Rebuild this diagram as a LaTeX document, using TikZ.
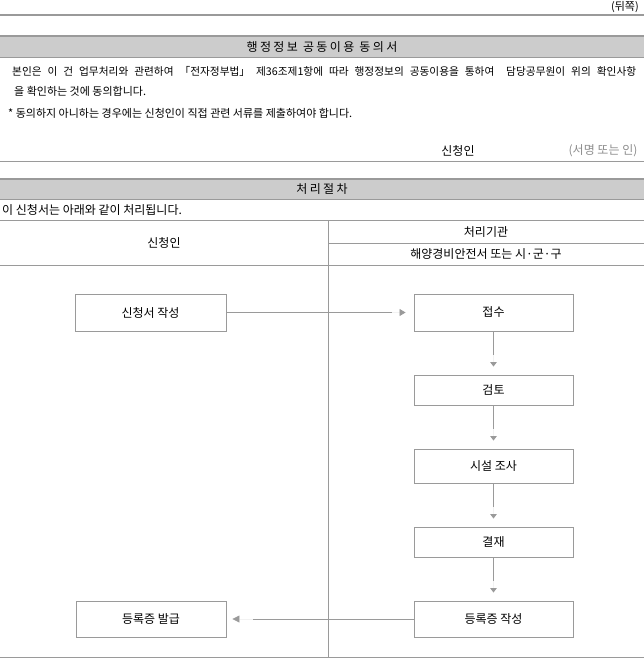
\documentclass[tikz,border=0pt]{standalone}
\usepackage{fontspec}
\setmainfont{Noto Sans CJK KR}
\newfontfamily\spacedfont[LetterSpace=20]{Noto Sans CJK KR}
\usetikzlibrary{arrows.meta}
\definecolor{rulec}{HTML}{9A9A9A}
\definecolor{bandc}{HTML}{CCCCCC}
\definecolor{sigc}{HTML}{8C8C8C}
\begin{document}
\begin{tikzpicture}[x=1pt,y=-1pt,
  font=\fontsize{12}{14}\selectfont,
  rule/.style={draw=rulec, line width=0.8pt},
  thickrule/.style={draw=rulec, line width=2.5pt},
  txt/.style={inner sep=0pt},
  bodytxt/.style={inner sep=0pt, font=\fontsize{11}{13}\selectfont},
  titletxt/.style={inner sep=0pt, font=\spacedfont\fontsize{12}{14}\selectfont},
  box/.style={draw=rulec, line width=0.9pt, inner sep=0pt},
  hconn/.style={draw=rulec, fill=rulec, line width=0.8pt, -{Triangle[length=6pt,width=7pt]}, shorten >=8pt, dash pattern=on 166pt off 300pt},
  vconn/.style={draw=rulec, fill=rulec, line width=0.8pt, -{Triangle[length=4.5pt,width=6.5pt]}, shorten >=8pt, dash pattern=on 24pt off 100pt},
  bconn/.style={draw=rulec, fill=rulec, line width=0.8pt, -{Triangle[length=7pt,width=7pt]}, shorten >=6pt, dash pattern=on 161pt off 300pt}]
\useasboundingbox (0,0) rectangle (644,659);

% rules and bands
\draw[thickrule] (0,15) -- (644,15);
\fill[bandc] (0,37) rectangle (644,57);
\draw[thickrule] (0,36) -- (644,36);
\draw[rule] (0,57.5) -- (644,57.5);
\draw[rule] (0,161.5) -- (644,161.5);
\fill[bandc] (0,180) rectangle (644,199);
\draw[thickrule] (0,179) -- (644,179);
\draw[rule] (0,199.5) -- (644,199.5);
\draw[rule] (0,220.5) -- (644,220.5);
\draw[rule] (328,243.5) -- (644,243.5);
\draw[rule] (0,265.5) -- (644,265.5);
\draw[rule] (328,220.5) -- (328,657.5);
\draw[rule] (0,657.5) -- (644,657.5);

% texts
\node[txt, anchor=north east, font=\fontsize{11}{13}\selectfont] (back) at (639,1) {(뒤쪽)};
\node[titletxt] (title1) at (322,47) {행정정보 공동이용 동의서};
\node[txt, anchor=west, font=\fontsize{10.7}{13}\selectfont] (l1) at (12,71) {\makebox[624pt][s]{본인은 이 건 업무처리와 관련하여 「전자정부법」 제36조제1항에 따라 행정정보의 공동이용을 통하여 \ 담당공무원이 위의 확인사항}};
\node[bodytxt, anchor=west] (l2) at (14,91) {을 확인하는 것에 동의합니다.};
\node[bodytxt, anchor=west] (l3) at (8,113) {* 동의하지 아니하는 경우에는 신청인이 직접 관련 서류를 제출하여야 합니다.};
\node[txt] (sig) at (458,151) {신청인};
\node[txt, text=sigc] (sign) at (603,151) {(서명 또는 인)};
\node[titletxt] (title2) at (322,189.5) {처리절차};
\node[txt, anchor=west] (intro) at (2,210) {이 신청서는 아래와 같이 처리됩니다.};
\node[txt] (colA) at (164,243) {신청인};
\node[txt] (colB) at (486,232) {처리기관};
\node[txt] (colB2) at (486,254.5) {해양경비안전서 또는 시·군·구};

% boxes
\node[box, minimum width=151pt, minimum height=37pt] (apply) at (150.5,312.5) {신청서 작성};
\node[box, minimum width=159pt, minimum height=37pt] (recv) at (493.5,312.5) {접수};
\node[box, minimum width=159pt, minimum height=30pt] (review) at (493.5,390) {검토};
\node[box, minimum width=159pt, minimum height=34pt] (survey) at (493.5,466) {시설 조사};
\node[box, minimum width=159pt, minimum height=30pt] (approve) at (493.5,542) {결재};
\node[box, minimum width=159pt, minimum height=36pt] (make) at (493.5,619) {등록증 작성};
\node[box, minimum width=150pt, minimum height=36pt] (issue) at (151,619) {등록증 발급};

% connectors
\draw[hconn] (apply.east) -- (recv.west);
\draw[vconn] (recv.south) -- (review.north);
\draw[vconn] (review.south) -- (survey.north);
\draw[vconn] (survey.south) -- (approve.north);
\draw[vconn] (approve.south) -- (make.north);
\draw[bconn] (make.west) -- (issue.east);
\end{tikzpicture}
\end{document}
